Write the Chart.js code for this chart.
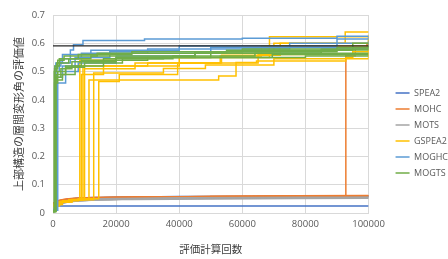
<!DOCTYPE html>
<html><head><meta charset="utf-8">
<script src="https://cdn.jsdelivr.net/npm/chart.js@4/dist/chart.umd.min.js"></script>
<style>html,body{margin:0;padding:0;background:#fff}</style>
</head><body>
<canvas id="c" width="448" height="259"></canvas>
<script>
// ---- data ----
const algorithms = ['SPEA2', 'MOHC', 'MOTS', 'GSPEA2', 'MOGHC', 'MOGTS'];
const xTicks = [0, 20000, 40000, 60000, 80000, 100000];
const yTicks = [0, 0.1, 0.2, 0.3, 0.4, 0.5, 0.6, 0.7];

// each run: list of [evaluations, value]
const spea2Runs = [
  [[0,0.025],[100000,0.025]],
  [[0,0.03],[2000,0.042],[6000,0.05],[15000,0.055],[40000,0.058],[100000,0.06]],
  [[0,0.028],[3000,0.045],[10000,0.052],[30000,0.056],[100000,0.059]]
];
const mohcRuns = [
  [[0,0.035],[2000,0.045],[8000,0.052],[30000,0.057],[100000,0.062]],
  [[0,0.03],[3000,0.046],[12000,0.053],[50000,0.058],[100000,0.061]],
  [[0,0.033],[3000,0.047],[15000,0.055],[100000,0.06]],
  [[0,0.03],[2000,0.042],[5000,0.048],[10000,0.052],[25000,0.056],[50000,0.058],[92800,0.556],[95800,0.583],[99500,0.595],[100000,0.595]]
];
const motsRuns = [
  [[0,0.02],[3000,0.036],[10000,0.044],[30000,0.05],[100000,0.055]],
  [[0,0.025],[5000,0.04],[20000,0.048],[45000,0.052],[100000,0.054]],
  [[0,0.015],[2000,0.03],[8000,0.042],[25000,0.048],[100000,0.052]],
  [[0,0.028],[4000,0.043],[15000,0.05],[100000,0.056]]
];
const gspea2Runs = [
  [[0,0.025],[2000,0.038],[5000,0.045],[8500,0.54],[20000,0.55],[45000,0.57],[70000,0.6],[92600,0.64],[100000,0.64]],
  [[0,0.028],[2000,0.04],[5000,0.046],[9500,0.52],[30000,0.53],[53400,0.558],[72000,0.6],[100000,0.615]],
  [[0,0.03],[2500,0.041],[6000,0.048],[11400,0.47],[52500,0.484],[58000,0.532],[64500,0.537],[92800,0.55],[95000,0.57],[100000,0.575]],
  [[0,0.026],[2000,0.039],[6000,0.047],[12900,0.495],[35000,0.511],[48300,0.523],[70000,0.545],[100000,0.56]],
  [[0,0.03],[3000,0.043],[8000,0.05],[14500,0.465],[21000,0.49],[39500,0.53],[65000,0.56],[100000,0.6]],
  [[0,0.027],[2000,0.04],[6000,0.047],[10000,0.51],[26000,0.53],[53000,0.555],[66000,0.59],[100000,0.62]],
  [[0,0.029],[2000,0.041],[5000,0.046],[9000,0.49],[16000,0.52],[40000,0.55],[68600,0.623],[100000,0.63]]
];
const moghcRuns = [
  [[0,0.01],[800,0.5],[2000,0.53],[5500,0.576],[6500,0.595],[9500,0.61],[29000,0.615],[60000,0.618],[90000,0.625],[100000,0.625]],
  [[0,0.01],[1200,0.48],[3000,0.52],[7000,0.55],[18000,0.57],[50000,0.585],[100000,0.6]],
  [[0,0.01],[600,0.52],[2500,0.545],[9000,0.565],[30000,0.58],[75000,0.6],[100000,0.61]],
  [[0,0.01],[1500,0.46],[4000,0.5],[8000,0.53],[20000,0.555],[45000,0.57],[85000,0.58],[100000,0.58]],
  [[0,0.01],[900,0.53],[3000,0.56],[12000,0.575],[40000,0.59],[90000,0.615],[100000,0.625]]
];
const mogtsRuns = [
  [[0,0.005],[500,0.46],[1500,0.5],[4000,0.52],[9000,0.54],[30000,0.55],[69500,0.56],[100000,0.56]],
  [[0,0.005],[700,0.48],[2500,0.51],[6000,0.535],[20000,0.55],[50000,0.565],[85000,0.576],[100000,0.576]],
  [[0,0.005],[400,0.5],[1200,0.53],[5000,0.545],[12000,0.555],[45000,0.57],[90000,0.585],[100000,0.585]],
  [[0,0.005],[800,0.47],[3000,0.49],[7000,0.52],[16000,0.545],[38000,0.555],[64000,0.565],[100000,0.565]],
  [[0,0.005],[600,0.52],[2000,0.545],[8000,0.56],[25000,0.57],[60000,0.58],[100000,0.59]],
  [[0,0.005],[1000,0.49],[4000,0.515],[10000,0.53],[22000,0.545],[35000,0.55],[80000,0.555],[100000,0.555]],
  [[0,0.005],[500,0.51],[1500,0.54],[3500,0.555],[14000,0.565],[55000,0.575],[95000,0.6],[100000,0.6]]
];
const referenceLine = [[0,0.591],[100000,0.591]];

// ---- styling ----
const colors = {
  SPEA2: '#4472C4', MOHC: '#ED7D31', MOTS: '#A5A5A5',
  GSPEA2: '#FFC000', MOGHC: '#5B9BD5', MOGTS: '#70AD47'
};
const runsByAlg = {
  SPEA2: spea2Runs, MOHC: mohcRuns, MOTS: motsRuns,
  GSPEA2: gspea2Runs, MOGHC: moghcRuns, MOGTS: mogtsRuns
};

const datasets = [];
algorithms.forEach(alg => {
  runsByAlg[alg].forEach((run, i) => {
    const maxV = Math.max(...run.map(p => p[1]));
    const smooth = maxV < 0.1;
    datasets.push({
      label: alg,
      legendShow: i === 0,
      data: run.map(p => ({x: p[0], y: p[1]})),
      borderColor: colors[alg],
      backgroundColor: colors[alg],
      borderWidth: 1.5,
      pointRadius: 0,
      fill: false,
      stepped: smooth ? false : true,
      cubicInterpolationMode: 'monotone',
      order: -datasets.length
    });
  });
});
datasets.push({
  label: 'ref', legendShow: false,
  data: referenceLine.map(p => ({x: p[0], y: p[1]})),
  borderColor: '#262626', backgroundColor: '#262626',
  borderWidth: 1.3, pointRadius: 0, fill: false, order: -1000
});

const tickFont = {family: "'Open Sans', 'Noto Sans', sans-serif", size: 9.5};
const cjkFont = "'Noto Sans CJK JP', 'Noto Sans', sans-serif";

new Chart(document.getElementById('c'), {
  type: 'line',
  data: {datasets},
  options: {
    responsive: false,
    animation: false,
    events: [],
    layout: {padding: {top: 15, right: -10, bottom: 8, left: 0}},
    plugins: {
      tooltip: {enabled: false},
      legend: {
        position: 'right',
        labels: {
          usePointStyle: true,
          pointStyle: 'line',
          pointStyleWidth: 14,
          boxHeight: 8,
          padding: 7,
          color: '#595959',
          font: {family: "'Open Sans', 'Noto Sans', sans-serif", size: 9},
          filter: (item, data) => data.datasets[item.datasetIndex].legendShow,
          sort: (a, b) => a.datasetIndex - b.datasetIndex
        }
      }
    },
    scales: {
      x: {
        type: 'linear', min: 0, max: 100000,
        afterBuildTicks: s => { s.ticks = xTicks.map(v => ({value: v})); },
        afterFit: s => { s.height = 38; },
        ticks: {
          color: '#595959', font: tickFont, padding: 6, maxRotation: 0,
          callback: v => String(v)
        },
        grid: {color: '#d9d9d9', drawTicks: false, lineWidth: 1},
        border: {color: '#d9d9d9'},
        title: {display: true, text: '評価計算回数', color: '#404040',
          font: {family: cjkFont, size: 10.5}, padding: {top: 7, bottom: -4}}
      },
      y: {
        type: 'linear', min: 0, max: 0.7,
        afterBuildTicks: s => { s.ticks = yTicks.map(v => ({value: v})); },
        afterFit: s => { s.width = 53; },
        ticks: {
          color: '#595959', font: tickFont, padding: 8,
          callback: v => String(Math.round(v * 10) / 10)
        },
        grid: {color: '#d9d9d9', drawTicks: false, lineWidth: 1},
        border: {color: '#d9d9d9'},
        title: {display: true, text: '上部構造の層間変形角の評価値', color: '#404040',
          font: {family: cjkFont, size: 11}, padding: {top: 12, bottom: 2}}
      },
      gap: {
        type: 'linear', position: 'right', display: true,
        afterFit: s => { s.width = 20; },
        ticks: {display: false},
        grid: {display: false, drawTicks: false},
        border: {display: false}
      }
    }
  }
});
</script>
</body></html>
